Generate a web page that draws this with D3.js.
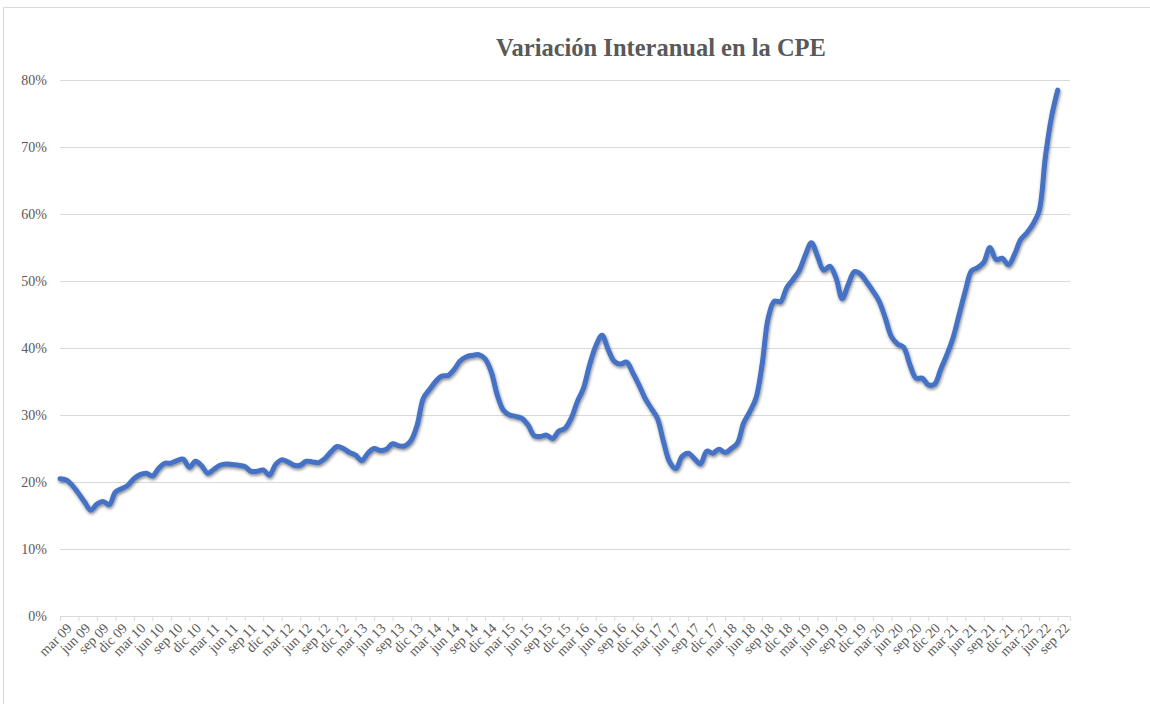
<!DOCTYPE html>
<html>
<head>
<meta charset="utf-8">
<script src="https://cdn.jsdelivr.net/npm/d3@7"></script>
<style>
  html, body { margin: 0; padding: 0; background: #ffffff; }
  #chart { width: 1150px; height: 704px; }
</style>
</head>
<body>
<div id="chart"></div>
<script>
// Monthly year-on-year variation (%), from mar 09 to sep 22
const cpeVariation = [
  20.5, 20.3, 19.5, 18.3, 17.0, 15.8, 16.7, 17.1, 16.6, 18.5, 19.0, 19.5,
  20.5, 21.1, 21.3, 20.9, 22.0, 22.8, 22.8, 23.2, 23.4, 22.2, 23.1, 22.4,
  21.3, 21.9, 22.5, 22.7, 22.6, 22.5, 22.3, 21.6, 21.6, 21.8, 21.0, 22.6,
  23.3, 23.0, 22.5, 22.5, 23.1, 23.0, 22.9, 23.5, 24.5, 25.3, 25.0, 24.4,
  24.0, 23.2, 24.3, 25.0, 24.7, 24.9, 25.7, 25.4, 25.4, 26.2, 28.5, 32.5,
  33.8, 35.0, 35.8, 35.9, 36.8, 38.1, 38.7, 38.9, 39.0, 38.4, 36.5, 33.0,
  30.7, 30.0, 29.8, 29.5, 28.5, 26.9, 26.8, 27.0, 26.5, 27.6, 28.0, 29.5,
  32.0, 34.0, 37.5, 40.3, 41.9, 39.8, 38.0, 37.6, 37.9, 36.3, 34.5, 32.5,
  31.0, 29.5, 26.0, 23.0, 22.0, 23.8, 24.3, 23.5, 22.7, 24.6, 24.3, 24.9,
  24.4, 25.0, 25.8, 28.8, 30.5, 32.5, 37.5, 44.5, 47.0, 46.9, 49.0, 50.2,
  51.5, 53.8, 55.7, 53.7, 51.6, 52.2, 50.5, 47.4, 49.5, 51.4, 51.0, 49.8,
  48.5, 47.0, 44.5, 41.7, 40.6, 40.1, 37.5, 35.5, 35.5, 34.5, 34.6, 36.8,
  39.0, 41.5, 45.0, 48.5, 51.5, 52.0, 52.8, 55.0, 53.2, 53.4, 52.4, 54.0,
  56.2, 57.2, 58.5, 60.5, 68.5, 74.5, 78.5
];

const monthNames = ['ene', 'feb', 'mar', 'abr', 'may', 'jun', 'jul', 'ago', 'sep', 'oct', 'nov', 'dic'];
const startYear = 2009;
const startMonth = 2; // mar
const yTicks = [0, 10, 20, 30, 40, 50, 60, 70, 80];

// category label for each month index
const categories = d3.range(cpeVariation.length + 2).map(i => {
  const m = (startMonth + i) % 12;
  const y = startYear + Math.floor((startMonth + i) / 12);
  return `${monthNames[m]} ${String(y % 100).padStart(2, '0')}`;
});
const tickIndexes = d3.range(0, cpeVariation.length, 3);

const width = 1150;
const height = 704;
const margin = { left: 60, right: 80, top: 80, bottom: 88 };
const serif = '"Liberation Serif", "Times New Roman", serif';

const svg = d3.select('#chart')
  .append('svg')
  .attr('width', width)
  .attr('height', height)
  .style('font-family', serif);

// drop shadow for the series line
const defs = svg.append('defs');
defs.append('filter')
  .attr('id', 'shadow')
  .attr('x', '-5%').attr('y', '-5%')
  .attr('width', '110%').attr('height', '110%')
  .append('feDropShadow')
  .attr('dx', 0.8)
  .attr('dy', 1.8)
  .attr('stdDeviation', 1.4)
  .attr('flood-color', '#000000')
  .attr('flood-opacity', 0.45);

// chart frame
svg.append('path')
  .attr('d', `M3.5,${height + 5} L3.5,7.5 L${width + 5},7.5`)
  .attr('fill', 'none')
  .attr('stroke', '#d9d9d9')
  .attr('stroke-width', 1);

// title
svg.append('text')
  .attr('x', 661)
  .attr('y', 56)
  .attr('text-anchor', 'middle')
  .attr('font-size', '24.5px')
  .attr('font-weight', 'bold')
  .attr('fill', '#595959')
  .text('Variación Interanual en la CPE');

const x = d3.scaleLinear()
  .domain([0, cpeVariation.length + 1])
  .range([margin.left, width - margin.right]);

const y = d3.scaleLinear()
  .domain([0, 80])
  .range([height - margin.bottom, margin.top]);

// gridlines + y labels
const yAxis = svg.append('g')
  .attr('transform', `translate(${margin.left},0)`)
  .call(d3.axisLeft(y)
    .tickValues(yTicks)
    .tickSize(-(width - margin.left - margin.right))
    .tickPadding(13)
    .tickFormat(d => d + '%'));
yAxis.select('.domain').remove();
yAxis.selectAll('line').attr('stroke', '#d9d9d9').attr('stroke-width', 1);
yAxis.selectAll('text')
  .attr('fill', '#595959')
  .attr('font-size', '14px')
  .attr('font-family', serif);

// x axis
const xAxis = svg.append('g')
  .attr('transform', `translate(0,${y(0)})`)
  .call(d3.axisBottom(x)
    .tickValues(tickIndexes)
    .tickSize(5)
    .tickFormat(i => categories[i]));
xAxis.select('.domain').attr('stroke', '#d9d9d9');
xAxis.selectAll('line').attr('stroke', '#d9d9d9');
xAxis.selectAll('text')
  .attr('fill', '#595959')
  .attr('font-size', '14px')
  .attr('font-family', serif)
  .attr('text-anchor', 'end')
  .attr('dy', '0.35em')
  .attr('transform', 'translate(3,4) rotate(-45)');

// series line
const line = d3.line()
  .x((d, i) => x(i))
  .y(d => y(d))
  .curve(d3.curveCatmullRom.alpha(0.5));

svg.append('path')
  .datum(cpeVariation)
  .attr('d', line)
  .attr('fill', 'none')
  .attr('stroke', '#4472c4')
  .attr('stroke-width', 5)
  .attr('stroke-linejoin', 'round')
  .attr('stroke-linecap', 'round')
  .attr('filter', 'url(#shadow)');
</script>
</body>
</html>
